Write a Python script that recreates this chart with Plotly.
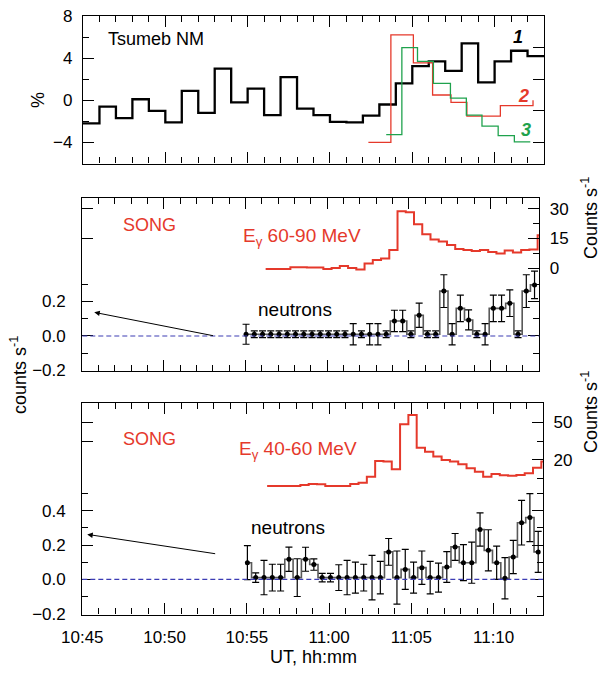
import numpy as np
import pandas as pd
import plotly.graph_objects as go

DAY = "2003-10-28"
FONT = "Liberation Sans, Arial, sans-serif"
RED = "#e5392b"
GREEN = "#1fa24d"
BLUE = "#3c3cb4"


def ut(hms):
    return pd.Timestamp(f"{DAY} {hms}")


# ---------------- Tsumeb neutron monitor (1-min bins, % increase) ----------------
tsumeb_start = "10:45:00"
tsumeb_pct = [-2.2, -0.6, -1.7, 0.1, -1.0, -2.1, 0.9, -1.2, 3.0, -0.2,
              1.1, -1.4, 2.2, -0.8, -1.4, -2.05, -2.1, -1.45, -0.4, 1.6,
              3.25, 3.7, 2.8, 5.4, 1.7, 3.7, 4.7, 4.2]

# curves 2 and 3: step edges (UT) and levels
curve2_edges = ["11:02:20", "11:03:42", "11:05:04", "11:06:14", "11:07:21",
                "11:08:19", "11:10:21", "11:12:20"]
curve2_pct = [-4.0, 6.2, 3.55, 0.5, -0.2, -1.5, -0.5, 0.0]

curve3_edges = ["11:03:25", "11:04:22", "11:05:19", "11:06:17", "11:07:19",
                "11:08:17", "11:09:14", "11:10:13", "11:11:12", "11:12:10"]
curve3_pct = [-3.25, 5.0, 3.7, 1.6, 0.2, -1.4, -2.45, -3.35, -3.95]

# ---------------- SONG ----------------
song_bin_s = 30.3

gamma_start = "10:56:14"
gamma_60_90 = [-0.3, -0.3, -0.3, 0.6, 0.6, 0.5, 0.5, -0.3, 0.3, 1.3,
               0.3, -0.5, 2.5, 4.2, 5.0, 9.2, 28.7, 28.2, 22.2, 17.2,
               14.5, 13.5, 11.7, 9.7, 9.2, 8.7, 9.2, 8.3, 7.5, 9.0,
               8.0, 9.2, 9.5, 16.7]
gamma_40_60 = [-0.7, -0.7, -0.7, -0.7, 0.1, 0.9, 0.6, -0.7, -0.7, -0.7,
               0.9, 1.9, 6.7, 19.2, 18.7, 12.6, 48.4, 55.8, 29.8, 26.6,
               22.7, 20.0, 18.7, 16.6, 13.4, 10.7, 6.7, 8.9, 7.8, 7.5,
               8.1, 9.4, 13.9, 18.7]

neutron_start = "10:55:02"
neutron_mid = [0.01, 0.01, 0.01, 0.01, 0.01, 0.01, 0.01, 0.01, 0.01, 0.01,
               0.01, 0.01, 0.01, 0.01, 0.01, 0.01, 0.01, 0.01, 0.087, 0.087,
               0.01, 0.12, 0.01, 0.01, 0.26, 0.01, 0.16, 0.093, 0.01, 0.01,
               0.16, 0.16, 0.19, 0.01, 0.26, 0.296]
neutron_mid_err = [0.058, 0.02, 0.02, 0.02, 0.02, 0.02, 0.02, 0.02, 0.02, 0.02,
                   0.02, 0.02, 0.02, 0.062, 0.02, 0.062, 0.062, 0.02, 0.062, 0.062,
                   0.02, 0.07, 0.02, 0.02, 0.095, 0.062, 0.077, 0.058, 0.02, 0.062,
                   0.077, 0.077, 0.077, 0.02, 0.095, 0.08]

neutron_low = [0.097, 0.01, 0.01, 0.01, 0.01, 0.117, 0.01, 0.117, 0.086, 0.01,
               0.01, 0.01, 0.01, 0.01, 0.01, 0.01, 0.01, 0.16, 0.01, 0.058,
               0.01, 0.068, 0.01, 0.01, 0.072, 0.189, 0.097, 0.097, 0.29, 0.169,
               0.097, 0.006, 0.13, 0.33, 0.36, 0.16]
neutron_low_err = [0.099, 0.028, 0.10, 0.078, 0.078, 0.071, 0.11, 0.07, 0.033, 0.025,
                   0.025, 0.075, 0.10, 0.09, 0.078, 0.13, 0.095, 0.078, 0.155, 0.117,
                   0.09, 0.097, 0.095, 0.085, 0.09, 0.078, 0.105, 0.12, 0.097, 0.12,
                   0.097, 0.12, 0.097, 0.13, 0.14, 0.12]

x_range = [ut("10:45:00"), ut("11:13:00")]
tick_labels = ["10:45", "10:50", "10:55", "11:00", "11:05", "11:10"]


def step_edges(start, n, width_s):
    return ut(start) + pd.to_timedelta(np.arange(n + 1) * width_s, unit="s")


def centers(start, n, width_s):
    return ut(start) + pd.to_timedelta(np.arange(n) * width_s, unit="s")


tsumeb_t = pd.date_range(ut(tsumeb_start), periods=len(tsumeb_pct) + 1, freq="1min")
c2_t = [ut(t) for t in curve2_edges]
c3_t = [ut(t) for t in curve3_edges]
g1_t = step_edges(gamma_start, len(gamma_60_90), song_bin_s)
g2_t = step_edges(gamma_start, len(gamma_40_60), song_bin_s)
n1_t = centers(neutron_start, len(neutron_mid), song_bin_s)
n2_t = centers(neutron_start, len(neutron_low), song_bin_s)

fig = go.Figure()

# top panel
fig.add_trace(go.Scatter(x=tsumeb_t, y=tsumeb_pct + [tsumeb_pct[-1]], mode="lines",
                         line=dict(color="black", width=2.3, shape="hv"),
                         xaxis="x", yaxis="y"))
fig.add_trace(go.Scatter(x=c2_t, y=curve2_pct, mode="lines",
                         line=dict(color=RED, width=1.3, shape="hv"),
                         xaxis="x", yaxis="y2"))
fig.add_trace(go.Scatter(x=c3_t, y=curve3_pct + [curve3_pct[-1]], mode="lines",
                         line=dict(color=GREEN, width=1.3, shape="hv"),
                         xaxis="x", yaxis="y2"))

# middle panel
fig.add_trace(go.Scatter(x=g1_t, y=gamma_60_90 + [gamma_60_90[-1]], mode="lines",
                         line=dict(color=RED, width=2, shape="hv"),
                         xaxis="x2", yaxis="y4"))
fig.add_trace(go.Scatter(x=[], y=[], xaxis="x2", yaxis="y5", hoverinfo="skip"))
fig.add_trace(go.Scatter(x=n1_t, y=neutron_mid, mode="lines",
                         line=dict(color="#5a5a5a", width=1.6, shape="hvh"),
                         xaxis="x2", yaxis="y3"))
fig.add_trace(go.Scatter(x=n1_t, y=neutron_mid, mode="markers",
                         marker=dict(color="black", size=5),
                         error_y=dict(type="data", array=neutron_mid_err, color="black",
                                      thickness=1.2, width=3.5),
                         xaxis="x2", yaxis="y3"))

# bottom panel
fig.add_trace(go.Scatter(x=g2_t, y=gamma_40_60 + [gamma_40_60[-1]], mode="lines",
                         line=dict(color=RED, width=2, shape="hv"),
                         xaxis="x3", yaxis="y7"))
fig.add_trace(go.Scatter(x=[], y=[], xaxis="x3", yaxis="y8", hoverinfo="skip"))
fig.add_trace(go.Scatter(x=n2_t, y=neutron_low, mode="lines",
                         line=dict(color="#5a5a5a", width=1.6, shape="hvh"),
                         xaxis="x3", yaxis="y6"))
fig.add_trace(go.Scatter(x=n2_t, y=neutron_low, mode="markers",
                         marker=dict(color="black", size=5),
                         error_y=dict(type="data", array=neutron_low_err, color="black",
                                      thickness=1.2, width=3.5),
                         xaxis="x3", yaxis="y6"))

W, H = 603, 683


def px_x(a, b):
    return [a / W, b / W]


def px_y(top, bottom):
    return [1 - bottom / H, 1 - top / H]


base = dict(showline=True, linecolor="black", linewidth=1.3, ticks="inside",
            tickcolor="black", tickwidth=1.2, ticklen=11, showgrid=False,
            zeroline=False, automargin=False,
            tickfont=dict(family=FONT, size=17, color="black"))
minor_t = dict(ticks="inside", ticklen=6, tickcolor="black", tickwidth=1.2, showgrid=False)


def xaxis(domain, anchor, labels):
    d = dict(base)
    d.update(domain=domain, anchor=anchor, range=x_range, type="date",
             tickmode="array", tickvals=[ut(t + ":00") for t in tick_labels],
             ticktext=tick_labels, showticklabels=labels, mirror="ticks",
             minor=dict(minor_t, tickmode="linear", tick0=ut("10:45:00"), dtick=60000),
             ticklabelstandoff=7)
    return d


def yaxis(domain, anchor, rng, major, minor, labels=True, side="left",
          overlaying=None, line=True, mirror=False, standoff=6, fmt=None):
    d = dict(base)
    d.update(anchor=anchor, range=rng, tickmode="array", tickvals=major,
             showticklabels=labels, side=side, showline=line, mirror=mirror,
             minor=dict(minor_t, tickmode="array", tickvals=minor),
             ticklabelstandoff=standoff)
    if fmt:
        d["tickformat"] = fmt
    if domain is not None:
        d["domain"] = domain
    if overlaying:
        d["overlaying"] = overlaying
    return d


top_dom = px_y(16, 163.5)
mid_dom = px_y(198.3, 371)
low_dom = px_y(403.3, 614.5)

fig.update_layout(
    width=W, height=H, margin=dict(l=0, r=0, t=0, b=0, autoexpand=False),
    paper_bgcolor="white", plot_bgcolor="white", showlegend=False,
    font=dict(family=FONT, color="black"),
    xaxis=xaxis(px_x(83, 544), "y", False),
    yaxis=yaxis(top_dom, "x", [-6, 8], [-4, 0, 4, 8], [-2, 2, 6], standoff=6),
    yaxis2=yaxis(None, "x", [-6, 8], [-4, -1, 2, 5], [], labels=False,
                 side="right", overlaying="y"),
    xaxis2=xaxis(px_x(82.3, 539.3), "y3", False),
    yaxis3=yaxis(mid_dom, "x2", [-0.203, 0.798], [-0.2, 0.0, 0.2],
                 [-0.1, 0.1, 0.3], mirror="ticks", standoff=12, fmt=".1f"),
    yaxis4=yaxis(None, "x2", [-51.35, 35.15], [0, 15, 30], [7.5, 22.5],
                 side="right", overlaying="y3", standoff=6),
    yaxis5=yaxis(None, "x2", [-51.35, 35.15], [15, 30], [], labels=False,
                 overlaying="y3", line=False),
    xaxis3=xaxis(px_x(82.3, 543), "y6", True),
    yaxis6=yaxis(low_dom, "x3", [-0.205, 1.026], [-0.2, 0.0, 0.2, 0.4],
                 [-0.1, 0.1, 0.3, 0.5], mirror="ticks", standoff=12, fmt=".1f"),
    yaxis7=yaxis(None, "x3", [-103.0, 65.1], [20, 50], [5, 35],
                 side="right", overlaying="y6", standoff=6),
    yaxis8=yaxis(None, "x3", [-103.0, 65.1], [35, 50], [], labels=False,
                 overlaying="y6", line=False),
)

# zero reference lines
for xr, yr in (("x2", "y3"), ("x3", "y6")):
    fig.add_shape(type="line", xref=f"{xr} domain", yref=yr, x0=0, x1=1, y0=0, y1=0,
                  line=dict(color=BLUE, width=1.1, dash="5px,3px"))


def txt(text, x, y, size=18, color="black", xanchor="left", angle=0, **kw):
    fig.add_annotation(text=text, x=x, y=y, xref="paper", yref="paper",
                       xanchor=xanchor, yanchor="middle", showarrow=False,
                       textangle=angle, font=dict(family=FONT, size=size, color=color), **kw)


txt("Tsumeb NM", 106 / W, 1 - 38.5 / H)
txt("<b><i>1</i></b>", 518 / W, 1 - 37.5 / H, xanchor="center")
txt("<b><i>2</i></b>", 523 / W, 1 - 96 / H, color=RED, xanchor="center")
txt("<b><i>3</i></b>", 526 / W, 1 - 129.5 / H, color=GREEN, xanchor="center")
txt("%", 38 / W, 1 - 100 / H, angle=-90, xanchor="center")

txt("SONG", 121 / W, 1 - 225 / H, color=RED)
txt("E<sub>γ</sub> 60-90 MeV", 241 / W, 1 - 237 / H, size=19, color=RED)
txt("neutrons", 295 / W, 1 - 310 / H, size=19, xanchor="center")

txt("SONG", 121 / W, 1 - 438.5 / H, color=RED)
txt("E<sub>γ</sub> 40-60 MeV", 237 / W, 1 - 450 / H, size=19, color=RED)
txt("neutrons", 288 / W, 1 - 527 / H, size=19, xanchor="center")

txt("counts s<sup>-1</sup>", 18 / W, 1 - 375 / H, angle=-90, xanchor="center")
txt("Counts s<sup>-1</sup>", 589 / W, 1 - 218 / H, angle=-90, xanchor="center")
txt("Counts s<sup>-1</sup>", 589 / W, 1 - 412 / H, angle=-90, xanchor="center")
txt("UT, hh:mm", 313 / W, 1 - 657 / H, xanchor="center")

# arrows pointing to the neutron scale
for xr, yr, head, tail in (("x2", "y3", ("10:45:44", 0.137), ("10:53:06", 0.0)),
                           ("x3", "y6", ("10:45:18", 0.262), ("10:53:10", 0.148))):
    fig.add_annotation(x=ut(head[0]), y=head[1], ax=ut(tail[0]), ay=tail[1],
                       xref=xr, yref=yr, axref=xr, ayref=yr, text="",
                       showarrow=True, arrowhead=2, arrowsize=1.1, arrowwidth=1,
                       arrowcolor="black")

fig.write_html("out.html")
